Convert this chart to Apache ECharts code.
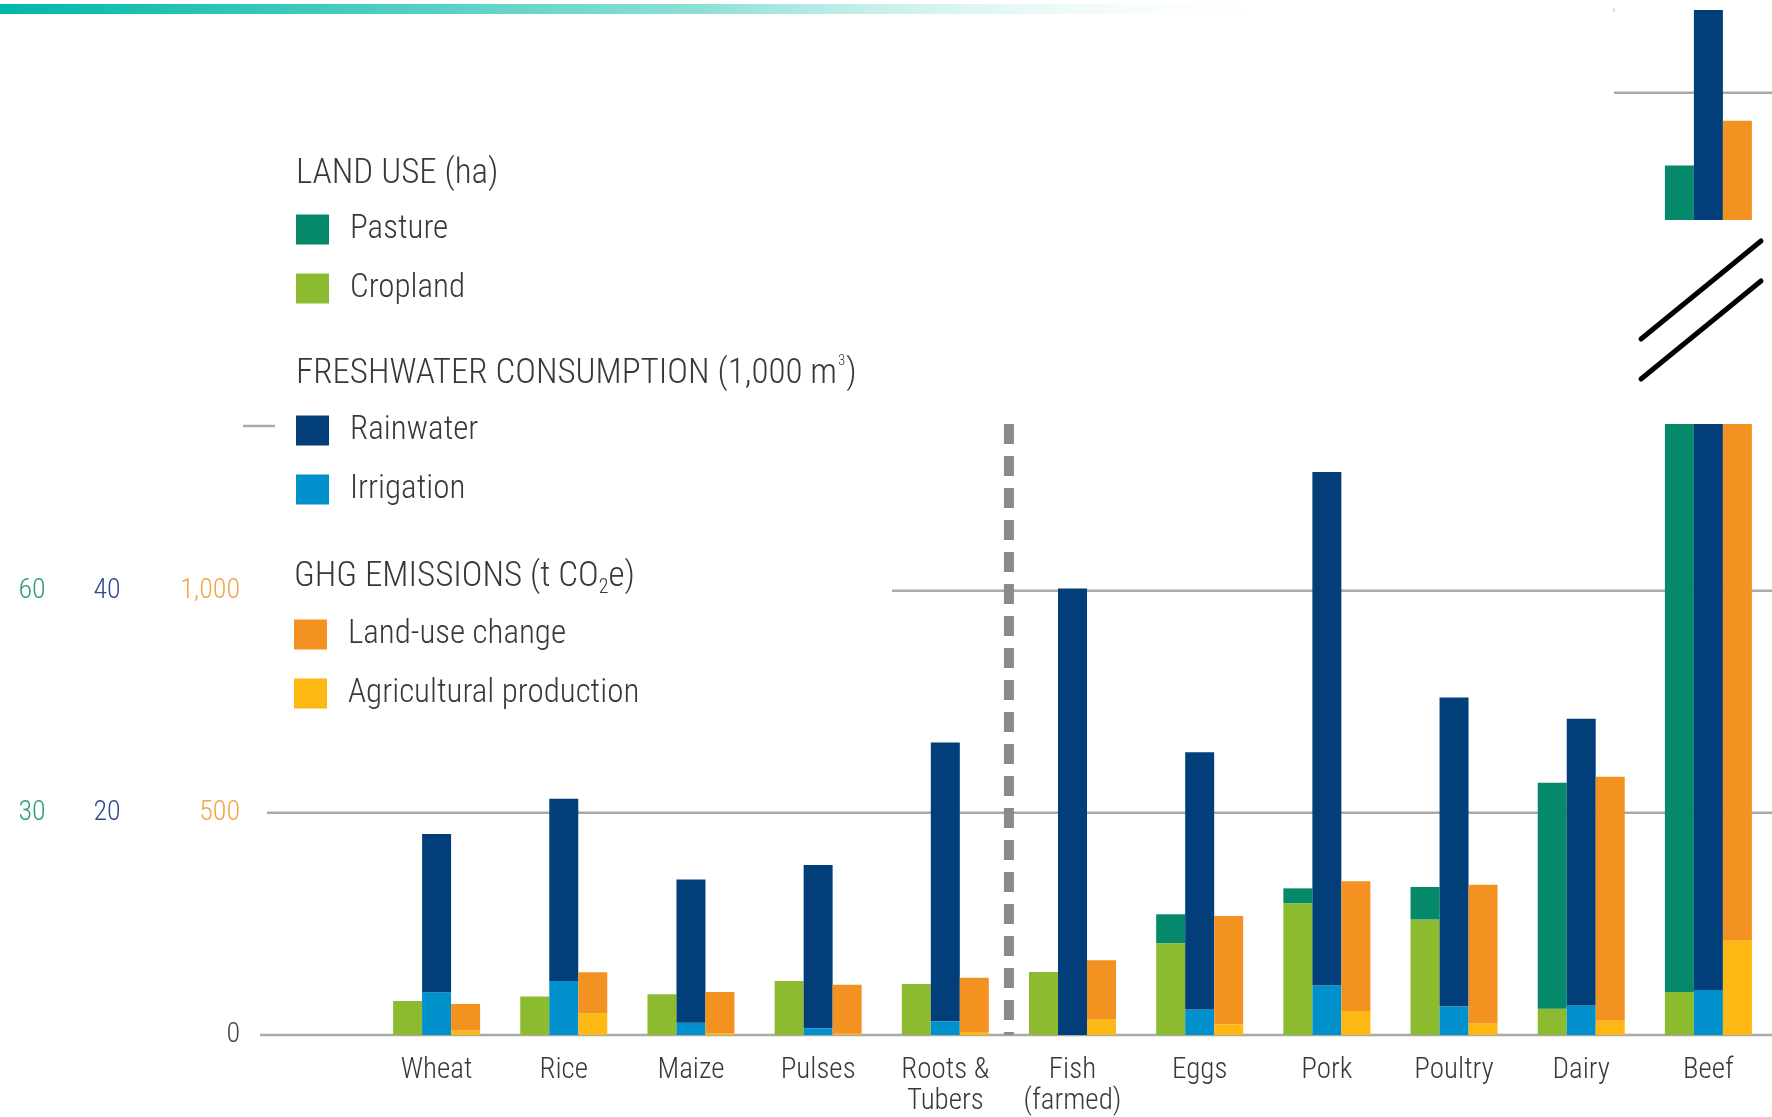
<!DOCTYPE html>
<html><head><meta charset="utf-8">
<script src="https://cdn.jsdelivr.net/npm/echarts@6/dist/echarts.min.js"></script>
<style>html,body{margin:0;padding:0;background:#fff}#c{width:1772px;height:1117px}</style>
</head><body><div id="c"></div>
<script>
// ---- data ----
const categories = ['Wheat','Rice','Maize','Pulses','Roots &\nTubers','Fish\n(farmed)','Eggs','Pork','Poultry','Dairy','Beef'];
// Land use (ha)
const pasture    = [0, 0, 0, 0, 0, 0, 3.9, 2.0, 4.4, 30.5, 103.9];
const cropland   = [4.6, 5.2, 5.5, 7.3, 6.9, 8.5, 12.4, 17.8, 15.6, 3.55, 5.8];
// Freshwater consumption (1,000 m3)
const rainwater  = [14.25, 16.4, 12.9, 14.7, 25.1, 40.2, 23.15, 46.2, 27.8, 25.8, 83.75];
const irrigation = [3.85, 4.87, 1.1, 0.6, 1.23, 0, 2.3, 4.47, 2.58, 2.66, 4.05];
// GHG emissions (t CO2e)
const landUseChange = [60, 92, 93, 110, 122, 133, 244, 292, 312, 549, 1722];
const agProduction  = [10, 49, 4, 3, 7, 35, 24, 54, 26, 32, 212];
// tick labels
const landTicks  = [0, 30, 60];
const waterTicks = [0, 20, 40];
const ghgTicks   = [0, 500, 1000];
// axis ranges (main panel, and the broken-axis inset for Beef)
const landRange  = [0, 82.5],  waterRange = [0, 55],  ghgRange = [0, 1375];
const landInset  = [102, 132], waterInset = [68, 88], ghgInset = [1700, 2200];
const insetGhgGrid = 2000;
const insetCategory = 'Beef';

const FONT = "'Roboto Condensed','Roboto','Liberation Sans',sans-serif";
const TXT = '#383838';
const COL = {pasture:'#05896a', cropland:'#8dbb2f', rain:'#023f7a', irr:'#0090cc', luc:'#f39221', ag:'#fdb813'};

function main(name, data, stack, color, yi) {
  return {type:'bar', name, data, stack, xAxisIndex:0, yAxisIndex:yi, barWidth:29, barGap:'0%',
    itemStyle:{color}, clip:true, silent:true};
}
function inset(name, data, stack, color, yi) {
  const d = data.map((v,i)=> categories[i]===insetCategory ? v : '-');
  return {type:'bar', name, data:d, stack, xAxisIndex:1, yAxisIndex:yi, barWidth:29, barGap:'0%',
    itemStyle:{color}, clip:true, silent:true};
}
const hiddenY = (gi, r) => ({type:'value', gridIndex:gi, min:r[0], max:r[1], show:false, splitLine:{show:false}});
const leftY = (r, ticks, label) => ({type:'value', gridIndex:0, position:'left', offset:0, min:r[0], max:r[1],
  interval:ticks[1]-ticks[0], axisLine:{show:false}, axisTick:{show:false}, splitLine:{show:false}, axisLabel:label});

const HS = 35; // header font size
const chart = echarts.init(document.getElementById('c'), null, {renderer:'canvas'});
const option = {
  animation:false,
  backgroundColor:'#fff',
  textStyle:{fontFamily:FONT},
  grid:[
    {left:373, width:1399, top:424, height:611, containLabel:false, outerBoundsMode:'none'},
    {left:373, width:1399, top:8, height:212, containLabel:false, outerBoundsMode:'none'}
  ],
  xAxis:[
    {type:'category', gridIndex:0, data:categories, axisLine:{show:false}, axisTick:{show:false},
     axisLabel:{interval:0, margin:20, fontSize:29, lineHeight:31, color:TXT, fontFamily:FONT, fontWeight:300}},
    {type:'category', gridIndex:1, data:categories, show:false}
  ],
  yAxis:[
    leftY(landRange, landTicks, {showMinLabel:false, showMaxLabel:false, align:'center', margin:341,
      fontSize:28, color:'#2e9c78', fontFamily:FONT, fontWeight:300}),
    leftY(waterRange, waterTicks, {showMinLabel:false, showMaxLabel:false, align:'center', margin:266,
      fontSize:28, color:'#33498a', fontFamily:FONT, fontWeight:300}),
    leftY(ghgRange, ghgTicks, {showMaxLabel:false, align:'right', margin:133, fontSize:28, fontFamily:FONT,
      formatter:v => v===0 ? '{z|0}' : '{o|' + v.toLocaleString('en-US') + '}',
      rich:{z:{color:'#444', fontSize:28, fontFamily:FONT, fontWeight:300},
            o:{color:'#f4a448', fontSize:28, fontFamily:FONT, fontWeight:300}}}),
    hiddenY(1, landInset), hiddenY(1, waterInset), hiddenY(1, ghgInset)
  ],
  title:[
    {text:'LAND USE (ha)', left:296, top:154, padding:0, textStyle:{fontSize:HS, fontWeight:300, color:TXT, fontFamily:FONT, lineHeight:40}},
    {text:'{a|FRESHWATER CONSUMPTION (1,000 m}{p|3}{a|)}', left:296, top:354, padding:0,
     textStyle:{fontWeight:300, rich:{a:{fontSize:HS, fontWeight:300, color:TXT, fontFamily:FONT, lineHeight:40},
                      p:{fontSize:15, fontWeight:300, color:TXT, fontFamily:FONT, lineHeight:40, verticalAlign:'top', padding:[0,1,18,1]}}}},
    {text:'{a|GHG EMISSIONS (t CO}{s|2}{a|e)}', left:294, top:557, padding:0,
     textStyle:{fontWeight:300, rich:{a:{fontSize:HS, fontWeight:300, color:TXT, fontFamily:FONT, lineHeight:40},
                      s:{fontSize:20, fontWeight:300, color:TXT, fontFamily:FONT, lineHeight:40, padding:[22,0,0,0]}}}}
  ],
  legend:[
    {data:['Pasture','Cropland'], left:296, top:213},
    {data:['Rainwater','Irrigation'], left:296, top:414},
    {data:['Land-use change','Agricultural production'], left:294, top:618}
  ].map(l => Object.assign(l, {orient:'vertical', icon:'rect', itemWidth:33, itemHeight:30, itemGap:26, padding:0,
        selectedMode:false, textStyle:{fontSize:33, fontWeight:300, color:TXT, fontFamily:FONT, lineHeight:30, padding:[0,0,0,16]}})),
  series:[
    main('Cropland', cropland, 'land', COL.cropland, 0),
    main('Pasture', pasture, 'land', COL.pasture, 0),
    main('Irrigation', irrigation, 'water', COL.irr, 1),
    main('Rainwater', rainwater, 'water', COL.rain, 1),
    main('Agricultural production', agProduction, 'ghg', COL.ag, 2),
    main('Land-use change', landUseChange, 'ghg', COL.luc, 2),
    inset('Cropland', cropland, 'landI', COL.cropland, 3),
    inset('Pasture', pasture, 'landI', COL.pasture, 3),
    inset('Irrigation', irrigation, 'waterI', COL.irr, 4),
    inset('Rainwater', rainwater, 'waterI', COL.rain, 4),
    inset('Agricultural production', agProduction, 'ghgI', COL.ag, 5),
    inset('Land-use change', landUseChange, 'ghgI', COL.luc, 5)
  ]
};
chart.setOption(option);

// ---- decorations positioned through the axes ----
const yG = v => chart.convertToPixel({yAxisIndex:2}, v);
const yI = v => chart.convertToPixel({yAxisIndex:5}, v);
const xC = i => chart.convertToPixel({xAxisIndex:0}, i);
const y0 = yG(0), y500 = yG(ghgTicks[1]), y1000 = yG(ghgTicks[2]), yTop = yG(ghgRange[1]);
const divX = (xC(4) + xC(5)) / 2;
const gridStroke = {stroke:'#a9a9a9', lineWidth:2.5};
chart.setOption({graphic:[
  {type:'rect', left:0, top:4, shape:{width:1290, height:10}, z:0,
   style:{fill:new echarts.graphic.LinearGradient(0,0,1,0,[{offset:0,color:'#00b8a8'},{offset:0.55,color:'#8fe0d6'},{offset:1,color:'rgba(255,255,255,0)'}])}},
  {type:'line', shape:{x1:260, y1:y0, x2:1772, y2:y0}, style:gridStroke, z:0},
  {type:'line', shape:{x1:267, y1:y500, x2:1772, y2:y500}, style:gridStroke, z:0},
  {type:'line', shape:{x1:892, y1:y1000, x2:1772, y2:y1000}, style:gridStroke, z:0},
  {type:'line', shape:{x1:243, y1:yTop+2, x2:275, y2:yTop+2}, style:gridStroke, z:0},
  {type:'line', shape:{x1:divX, y1:yTop, x2:divX, y2:y0}, style:{stroke:'#8c8c87', lineWidth:10, lineDash:[20,12]}, z:0},
  {type:'line', shape:{x1:1614, y1:yI(insetGhgGrid), x2:1772, y2:yI(insetGhgGrid)}, style:gridStroke, z:0},
  {type:'line', shape:{x1:1614, y1:8, x2:1614, y2:12}, style:{stroke:'#bbb', lineWidth:1}, z:0},
  {type:'line', shape:{x1:1641, y1:339, x2:1761, y2:241}, style:{stroke:'#000', lineWidth:5, lineCap:'round'}, z:10},
  {type:'line', shape:{x1:1641, y1:379, x2:1761, y2:281}, style:{stroke:'#000', lineWidth:5, lineCap:'round'}, z:10}
]});
</script>
</body></html>
